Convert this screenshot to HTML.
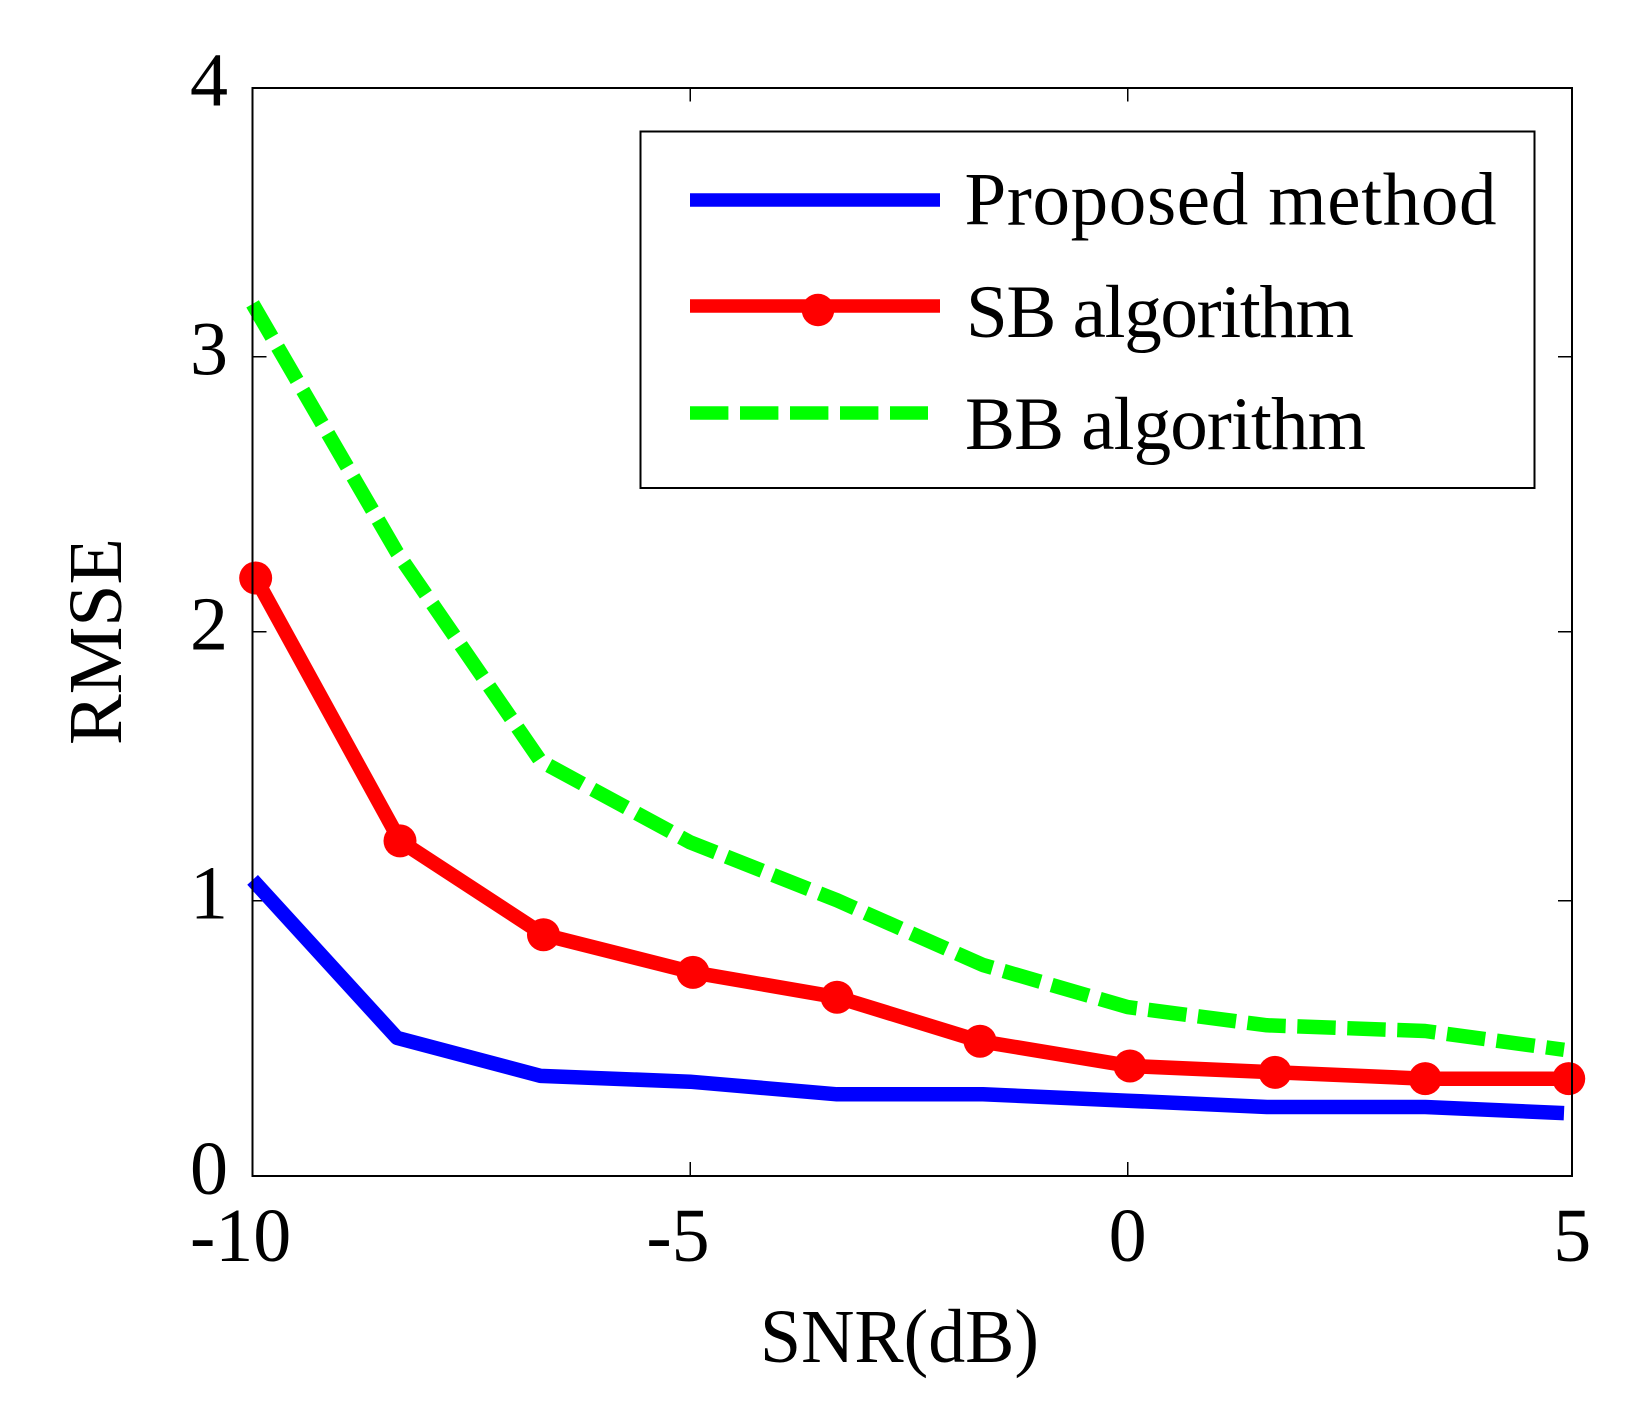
<!DOCTYPE html>
<html lang="en">
<head>
<meta charset="utf-8">
<title>RMSE versus SNR</title>
<style>
  html, body { margin: 0; padding: 0; background: #fff; }
  #chart { display: block; width: 1650px; height: 1410px; }
  text { font-family: "Liberation Serif", "Times New Roman", serif; fill: #000; }
  .tick-label { font-size: 76px; }
  .axis-title { font-size: 76px; }
  .legend-label { font-size: 75px; }
</style>
</head>
<body>
<svg id="chart" xmlns="http://www.w3.org/2000/svg" width="1650" height="1410" viewBox="0 0 1650 1410">
  <rect x="0" y="0" width="1650" height="1410" fill="#fff"/>
  <g id="ticks"></g>
  <g id="tick-labels"></g>
  <g id="series"></g>
  <rect x="252.5" y="88" width="1319.5" height="1088" fill="none" stroke="#000" stroke-width="1.7" shape-rendering="crispEdges"/>
  <text class="axis-title" x="760" y="1362" textLength="279" lengthAdjust="spacingAndGlyphs">SNR(dB)</text>
  <text class="axis-title" transform="translate(121 745) rotate(-90)" x="0" y="0" textLength="207" lengthAdjust="spacingAndGlyphs">RMSE</text>
  <g>
    <rect x="640.5" y="131.5" width="894" height="356.5" fill="#fff" stroke="#000" stroke-width="1.7" shape-rendering="crispEdges"/>
    <g>
      <line x1="690" y1="200" x2="940" y2="200" stroke="#0000ff" stroke-width="13.5"/>
      <text class="legend-label" x="964.5" y="224.5" textLength="532" lengthAdjust="spacing">Proposed method</text>
    </g>
    <g>
      <line x1="690" y1="306" x2="940" y2="306" stroke="#ff0000" stroke-width="13.5"/>
      <circle cx="818" cy="310" r="16.3" fill="#ff0000"/>
      <text class="legend-label" x="966" y="337" textLength="388" lengthAdjust="spacing">SB algorithm</text>
    </g>
    <g>
      <line x1="690" y1="413" x2="928" y2="413" stroke="#00ff00" stroke-width="13.5" stroke-dasharray="38.4 11.6"/>
      <text class="legend-label" x="965" y="449" textLength="401" lengthAdjust="spacing">BB algorithm</text>
    </g>
  </g>
</svg>
<script>
const xTickValues = [-10, -5, 0, 5];
const yTickValues = [0, 1, 2, 3, 4];
const lineSnr = [-10, -8.349, -6.709, -5, -3.32, -1.652, 0, 1.568, 3.347, 4.908];
const markerSnr = [-9.965, -8.315, -6.675, -4.966, -3.32, -1.686, 0.027, 1.658, 3.347, 4.961];
const proposedRmse = [1.077, 0.501, 0.363, 0.342, 0.296, 0.296, 0.273, 0.25, 0.25, 0.228];
const sbRmse = [2.195, 1.222, 0.876, 0.739, 0.649, 0.489, 0.399, 0.376, 0.353, 0.353];
const bbRmse = [3.196, 2.288, 1.519, 1.217, 1.001, 0.766, 0.613, 0.547, 0.526, 0.458];

const SVG_NS = 'http://www.w3.org/2000/svg';
const plotLeft = 252.6, plotRight = 1572.2, plotTop = 87.7, plotBottom = 1175.8;
const tickLength = 14;

// The source raster is slightly warped, so each axis interpolates between its tick positions.
function interpolate(v, domain, range) {
  let i = 0;
  while (i < domain.length - 2 && v > domain[i + 1]) {
    i += 1;
  }
  const t = (v - domain[i]) / (domain[i + 1] - domain[i]);
  return range[i] + t * (range[i + 1] - range[i]);
}
function xScale(v) {
  return interpolate(v, xTickValues, [plotLeft, 690, 1127.6, plotRight]);
}
function yScale(v) {
  return interpolate(v, yTickValues, [plotBottom, 900.6, 631.7, 356.6, plotTop]);
}
function make(tag, attrs) {
  const el = document.createElementNS(SVG_NS, tag);
  for (const key in attrs) {
    el.setAttribute(key, attrs[key]);
  }
  return el;
}
function tickMark(x1, y1, x2, y2) {
  return make('line', { x1: x1, y1: y1, x2: x2, y2: y2, stroke: '#000', 'stroke-width': 1.5, 'shape-rendering': 'crispEdges' });
}

const ticksGroup = document.getElementById('ticks');
const labelsGroup = document.getElementById('tick-labels');
const seriesGroup = document.getElementById('series');

xTickValues.forEach(function (v) {
  const x = xScale(v);
  const bottomTick = tickMark(x, plotBottom, x, plotBottom - tickLength);
  
  
  ticksGroup.appendChild(bottomTick);
  const topTick = tickMark(x, plotTop, x, plotTop + tickLength);
  
  
  ticksGroup.appendChild(topTick);
  const label = make('text', { x: v < 0 ? x - 12 : x, y: 1261, 'text-anchor': 'middle', class: 'tick-label' });
  
  
  label.textContent = String(v);
  labelsGroup.appendChild(label);
});

yTickValues.forEach(function (v) {
  const y = yScale(v);
  const leftTick = tickMark(plotLeft, y, plotLeft + tickLength, y);
  
  
  ticksGroup.appendChild(leftTick);
  const rightTick = tickMark(plotRight, y, plotRight - tickLength, y);
  
  
  ticksGroup.appendChild(rightTick);
  const label = make('text', { x: 228, y: y + 18, 'text-anchor': 'end', class: 'tick-label' });
  
  
  label.textContent = String(v);
  labelsGroup.appendChild(label);
});

function pointsFor(xs, ys) {
  return ys.map(function (v, i) {
    return xScale(xs[i]).toFixed(1) + ',' + yScale(v).toFixed(1);
  }).join(' ');
}

const bbLine = make('polyline', { points: pointsFor(lineSnr, bbRmse), fill: 'none', stroke: '#00ff00', 'stroke-width': 14.5, 'stroke-dasharray': '38.4 11.6', 'stroke-linejoin': 'round' });


seriesGroup.appendChild(bbLine);

const proposedLine = make('polyline', { points: pointsFor(lineSnr, proposedRmse), fill: 'none', stroke: '#0000ff', 'stroke-width': 14.5, 'stroke-linejoin': 'round' });


seriesGroup.appendChild(proposedLine);

const sbLine = make('polyline', { points: pointsFor(markerSnr, sbRmse), fill: 'none', stroke: '#ff0000', 'stroke-width': 14.5, 'stroke-linejoin': 'round' });


seriesGroup.appendChild(sbLine);

sbRmse.forEach(function (v, i) {
  const dot = make('circle', { cx: xScale(markerSnr[i]), cy: yScale(v), r: 16.5, fill: '#ff0000' });
  
  
  seriesGroup.appendChild(dot);
});
</script>
</body>
</html>
